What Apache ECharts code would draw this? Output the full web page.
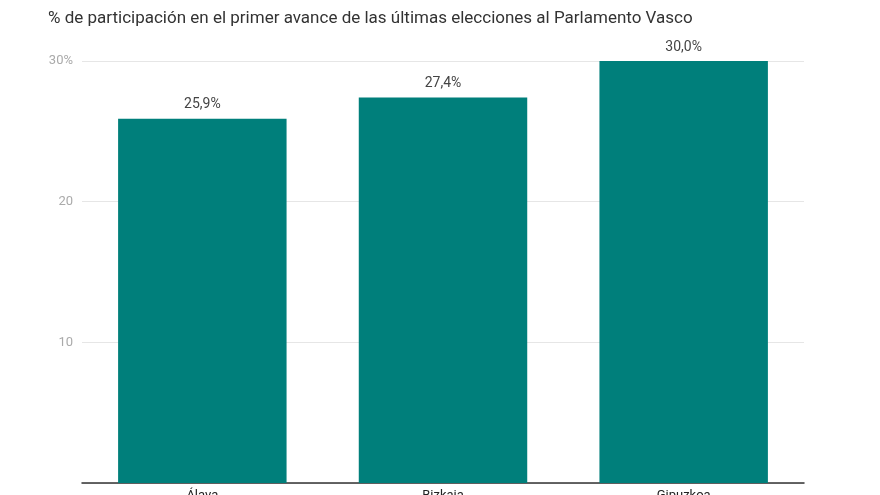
<!DOCTYPE html>
<html><head><meta charset="utf-8">
<script src="https://cdn.jsdelivr.net/npm/echarts@6/dist/echarts.min.js"></script>
<style>html,body{margin:0;padding:0;background:#fff}#c{width:880px;height:495px}</style>
</head><body><div id="c"></div>
<script>
const titleText = '% de participación en el primer avance de las últimas elecciones al Parlamento Vasco';
const categories = ['Álava', 'Bizkaia', 'Gipuzkoa'];
const participation = [25.9, 27.4, 30.0];

const chart = echarts.init(document.getElementById('c'), null, {renderer: 'canvas'});
chart.setOption({
  animation: false,
  backgroundColor: '#fff',
  textStyle: {fontFamily: 'Roboto'},
  title: {
    text: titleText, left: 43, top: 5,
    textStyle: {fontFamily: 'Roboto', fontSize: 17, fontWeight: 'normal', color: '#333'}
  },
  grid: {left: 82, right: 76, top: 61, bottom: 12, containLabel: false, outerBoundsMode: 'none'},
  xAxis: {
    type: 'category', data: categories,
    axisLine: {lineStyle: {color: '#333', width: 1.5}},
    axisTick: {show: false},
    axisLabel: {color: '#222', fontSize: 13, margin: 6, fontFamily: 'Roboto'}
  },
  yAxis: {
    type: 'value', min: 0, max: 30, interval: 10,
    axisLine: {show: false}, axisTick: {show: false},
    splitLine: {lineStyle: {color: '#e6e6e6'}},
    axisLabel: {
      color: '#aaa', fontSize: 13, margin: 9, fontFamily: 'Roboto',
      formatter: v => v === 0 ? '' : (v === 30 ? v + '%' : String(v))
    }
  },
  series: [{
    type: 'bar', data: participation, barWidth: '70%',
    itemStyle: {color: '#007f7b'},
    label: {
      show: true, position: 'top', distance: 7, color: '#444', fontSize: 14, fontFamily: 'Roboto',
      formatter: p => p.value.toFixed(1).replace('.', ',') + '%'
    }
  }]
});
</script></body></html>
